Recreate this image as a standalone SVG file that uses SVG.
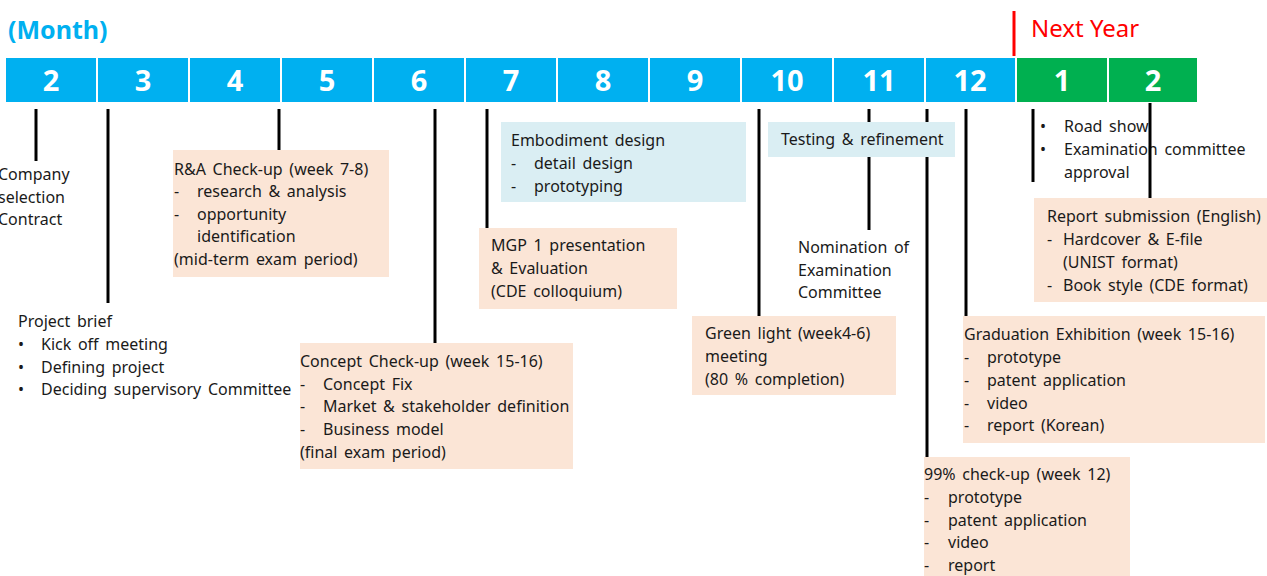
<svg xmlns="http://www.w3.org/2000/svg" width="1267" height="576" viewBox="0 0 1267 576">
<style>
.t{font-family:"Noto Sans","Open Sans",sans-serif;font-size:16px;fill:#1a1a1a;word-spacing:2.5px}
.m{font-family:"Noto Sans","Open Sans",sans-serif;font-size:29px;font-weight:bold;fill:#fff;text-anchor:middle}
.b{fill:#00B0F0;stroke:#fff;stroke-width:2}
.g{fill:#00B050;stroke:#fff;stroke-width:2}
.o{fill:#FBE5D6}
.l{fill:#DAEEF3}
.c line{stroke:#000;stroke-width:3}
</style>
<rect width="1267" height="576" fill="#fff"/>
<text x="8" y="39" font-family="Noto Sans, Open Sans, sans-serif" font-size="25" font-weight="bold" fill="#00B0F0">(Month)</text>
<g id="timeline">
<rect class="b" x="5" y="57" width="92" height="46"/>
<rect class="b" x="97" y="57" width="92" height="46"/>
<rect class="b" x="189" y="57" width="92" height="46"/>
<rect class="b" x="281" y="57" width="92" height="46"/>
<rect class="b" x="373" y="57" width="92" height="46"/>
<rect class="b" x="465" y="57" width="92" height="46"/>
<rect class="b" x="557" y="57" width="92" height="46"/>
<rect class="b" x="649" y="57" width="92" height="46"/>
<rect class="b" x="741" y="57" width="92" height="46"/>
<rect class="b" x="833" y="57" width="92" height="46"/>
<rect class="b" x="925" y="57" width="91" height="46"/>
<rect class="g" x="1016" y="57" width="92" height="46"/>
<rect class="g" x="1108" y="57" width="90" height="46"/>
<text class="m" x="51" y="91">2</text>
<text class="m" x="143" y="91">3</text>
<text class="m" x="235" y="91">4</text>
<text class="m" x="327" y="91">5</text>
<text class="m" x="419" y="91">6</text>
<text class="m" x="511" y="91">7</text>
<text class="m" x="603" y="91">8</text>
<text class="m" x="695" y="91">9</text>
<text class="m" x="787" y="91">10</text>
<text class="m" x="879" y="91">11</text>
<text class="m" x="970" y="91">12</text>
<text class="m" x="1062" y="91">1</text>
<text class="m" x="1153" y="91">2</text>
</g>
<g id="next-year">
<line x1="1014" y1="11" x2="1014" y2="56" stroke="#FF0000" stroke-width="3"/>
<text x="1031" y="37" font-family="Noto Sans, Open Sans, sans-serif" font-size="24" fill="#FF0000">Next Year</text>
</g>
<g class="c" id="connectors">
<line x1="36" y1="109" x2="36" y2="161"/>
<line x1="108" y1="109" x2="108" y2="303"/>
<line x1="279" y1="109" x2="279" y2="150"/>
<line x1="435" y1="109" x2="435" y2="343"/>
<line x1="487" y1="109" x2="487" y2="228"/>
<line x1="759" y1="109" x2="759" y2="316"/>
<line x1="869" y1="109" x2="869" y2="230"/>
<line x1="927" y1="109" x2="927" y2="457"/>
<line x1="966" y1="109" x2="966" y2="316"/>
<line x1="1033" y1="109" x2="1033" y2="182"/>
</g>
<g id="company">
<text class="t" x="-2" y="180">Company</text>
<text class="t" x="-2" y="203">selection</text>
<text class="t" x="-2" y="225">Contract</text>
</g>
<g id="project-brief">
<text class="t" x="18" y="327">Project brief</text>
<text class="t" x="18" y="350">•</text><text class="t" x="41" y="350">Kick off meeting</text>
<text class="t" x="18" y="373">•</text><text class="t" x="41" y="373">Defining project</text>
<text class="t" x="18" y="395">•</text><text class="t" x="41" y="395">Deciding supervisory Committee</text>
</g>
<g id="ra-checkup">
<rect class="o" x="173" y="150" width="216" height="127"/>
<text class="t" x="174" y="175">R&amp;A Check-up (week 7-8)</text>
<text class="t" x="174" y="197">-</text><text class="t" x="197" y="197">research &amp; analysis</text>
<text class="t" x="174" y="220">-</text><text class="t" x="197" y="220">opportunity</text>
<text class="t" x="197" y="242">identification</text>
<text class="t" x="174" y="265">(mid-term exam period)</text>
</g>
<g id="concept-checkup">
<rect class="o" x="300" y="343" width="273" height="126"/>
<text class="t" x="300" y="367">Concept Check-up (week 15-16)</text>
<text class="t" x="300" y="390">-</text><text class="t" x="323" y="390">Concept Fix</text>
<text class="t" x="300" y="412">-</text><text class="t" x="323" y="412">Market &amp; stakeholder definition</text>
<text class="t" x="300" y="435">-</text><text class="t" x="323" y="435">Business model</text>
<text class="t" x="300" y="458">(final exam period)</text>
</g>
<g id="embodiment">
<rect class="l" x="501" y="122" width="245" height="80"/>
<text class="t" x="511" y="146">Embodiment design</text>
<text class="t" x="511" y="169">-</text><text class="t" x="534" y="169">detail design</text>
<text class="t" x="511" y="192">-</text><text class="t" x="534" y="192">prototyping</text>
</g>
<g id="mgp">
<rect class="o" x="479" y="228" width="198" height="81"/>
<text class="t" x="491" y="251">MGP 1 presentation</text>
<text class="t" x="491" y="274">&amp; Evaluation</text>
<text class="t" x="491" y="297">(CDE colloquium)</text>
</g>
<g id="testing">
<rect class="l" x="768" y="122" width="187" height="35"/>
<text class="t" x="781" y="145">Testing &amp; refinement</text>
</g>
<g id="nomination">
<text class="t" x="798" y="253">Nomination of</text>
<text class="t" x="798" y="276">Examination</text>
<text class="t" x="798" y="298">Committee</text>
</g>
<g id="green-light">
<rect class="o" x="692" y="316" width="204" height="79"/>
<text class="t" x="705" y="339">Green light (week4-6)</text>
<text class="t" x="705" y="362">meeting</text>
<text class="t" x="705" y="385">(80 % completion)</text>
</g>
<g id="road-show">
<text class="t" x="1040" y="132">•</text><text class="t" x="1064" y="132">Road show</text>
<text class="t" x="1040" y="155">•</text><text class="t" x="1064" y="155">Examination committee</text>
<text class="t" x="1064" y="178">approval</text>
</g>
<line x1="1150" y1="103" x2="1150" y2="198" stroke="#000" stroke-width="3"/>
<g id="report-submission">
<rect class="o" x="1034" y="198" width="233" height="104"/>
<text class="t" x="1047" y="222">Report submission (English)</text>
<text class="t" x="1047" y="245">-</text><text class="t" x="1063" y="245">Hardcover &amp; E-file</text>
<text class="t" x="1063" y="268">(UNIST format)</text>
<text class="t" x="1047" y="291">-</text><text class="t" x="1063" y="291">Book style (CDE format)</text>
</g>
<g id="graduation">
<rect class="o" x="963" y="316" width="302" height="127"/>
<text class="t" x="964" y="340">Graduation Exhibition (week 15-16)</text>
<text class="t" x="964" y="363">-</text><text class="t" x="987" y="363">prototype</text>
<text class="t" x="964" y="386">-</text><text class="t" x="987" y="386">patent application</text>
<text class="t" x="964" y="409">-</text><text class="t" x="987" y="409">video</text>
<text class="t" x="964" y="431">-</text><text class="t" x="987" y="431">report (Korean)</text>
</g>
<g id="final-checkup">
<rect class="o" x="924" y="457" width="206" height="119"/>
<text class="t" x="924" y="480">99% check-up (week 12)</text>
<text class="t" x="924" y="503">-</text><text class="t" x="948" y="503">prototype</text>
<text class="t" x="924" y="526">-</text><text class="t" x="948" y="526">patent application</text>
<text class="t" x="924" y="548">-</text><text class="t" x="948" y="548">video</text>
<text class="t" x="924" y="571">-</text><text class="t" x="948" y="571">report</text>
</g>
</svg>
